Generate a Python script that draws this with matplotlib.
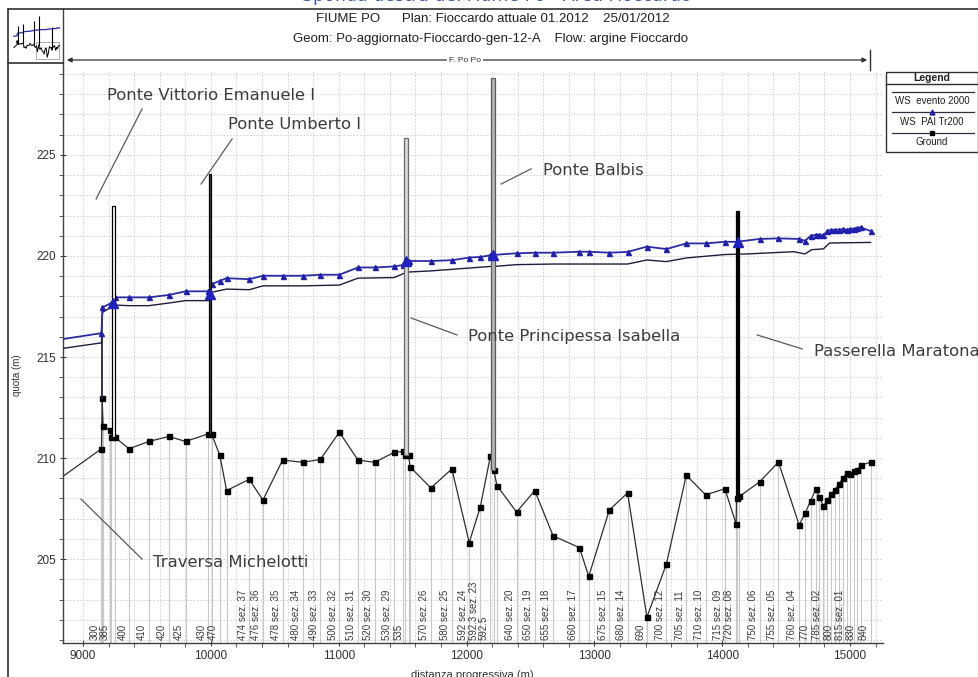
import matplotlib
matplotlib.use('Agg')
import matplotlib.pyplot as plt
from matplotlib.lines import Line2D
from matplotlib.patches import Rectangle, FancyArrowPatch
from matplotlib.ticker import MultipleLocator

# ---------------- data ----------------
ground_x = [8700, 9144, 9149, 9157, 9209, 9222, 9248, 9360, 9514, 9671, 9802, 9979, 10005,
            10070, 10123, 10300, 10407, 10561, 10718, 10856, 11005, 11151, 11282, 11433,
            11501, 11520, 11546, 11559, 11721, 11885, 12021, 12107, 12187, 12212, 12238,
            12391, 12534, 12677, 12883, 12956, 13117, 13260, 13411, 13563, 13719, 13870,
            14021, 14109, 14112, 14135, 14292, 14440, 14602, 14648, 14693, 14734, 14760,
            14792, 14823, 14852, 14883, 14914, 14943, 14974, 15000, 15031, 15057, 15083, 15161]
ground_z = [208.45, 210.46, 212.95, 211.6, 211.39, 211.03, 211.03, 210.46, 210.82, 211.07,
            210.82, 211.2, 211.2, 210.13, 208.39, 208.95, 207.92, 209.9, 209.79, 209.93,
            211.28, 209.9, 209.79, 210.28, 210.33, 210.15, 210.15, 209.56, 208.52, 209.46,
            205.82, 207.57, 210.11, 209.43, 208.64, 207.33, 208.39, 206.15, 205.57, 204.15,
            207.43, 208.28, 202.13, 204.75, 209.15, 208.18, 208.48, 206.74, 208.0, 208.1,
            208.82, 209.8, 206.69, 207.26, 207.9, 208.48, 208.07, 207.62, 207.92, 208.2,
            208.44, 208.72, 209.0, 209.26, 209.21, 209.34, 209.43, 209.64, 209.8]

wsu_x = [8700, 9144, 9152, 9222, 9248, 9360, 9514, 9671, 9802, 9979, 9992, 10005, 10070,
         10123, 10300, 10407, 10561, 10718, 10856, 11005, 11151, 11282, 11433, 11501, 11527,
         11546, 11721, 11885, 12021, 12107, 12187, 12206, 12391, 12534, 12677, 12883, 12956,
         13117, 13260, 13411, 13563, 13719, 13870, 14021, 14115, 14292, 14440, 14602, 14648,
         14693, 14734, 14760, 14792, 14823, 14852, 14883, 14914, 14943, 14974, 15000, 15031,
         15057, 15083, 15161]
wsu_z = [215.75, 216.18, 217.46, 217.67, 217.95, 217.95, 217.95, 218.07, 218.25, 218.25,
         218.1, 218.6, 218.77, 218.9, 218.85, 219.02, 219.02, 219.02, 219.07, 219.07, 219.43,
         219.43, 219.48, 219.55, 219.75, 219.75, 219.75, 219.79, 219.92, 219.95, 220.03,
         220.05, 220.13, 220.16, 220.16, 220.21, 220.21, 220.16, 220.2, 220.46, 220.34,
         220.62, 220.62, 220.7, 220.7, 220.84, 220.87, 220.84, 220.75, 221.0, 221.05, 221.05,
         221.02, 221.25, 221.28, 221.3, 221.3, 221.32, 221.3, 221.33, 221.35, 221.38, 221.42,
         221.23]

wsl_x = [8700, 9144, 9152, 9248, 9360, 9514, 9671, 9802, 9979, 10005, 10123, 10300, 10407,
         10561, 10718, 11005, 11151, 11433, 11527, 11559, 11721, 12187, 12212, 12391, 12677,
         13260, 13411, 13563, 13719, 14021, 14200, 14560, 14648, 14700, 14792, 14840, 15161]
wsl_z = [215.3, 215.7, 217.21, 217.57, 217.54, 217.54, 217.67, 217.79, 217.79, 218.2, 218.36,
         218.33, 218.52, 218.52, 218.52, 218.56, 218.9, 218.93, 219.18, 219.21, 219.26, 219.48,
         219.48, 219.57, 219.6, 219.6, 219.8, 219.72, 219.9, 220.07, 220.1, 220.21, 220.1,
         220.31, 220.35, 220.64, 220.67]

bridge_names = ["Ponte Vittorio Emanuele I", "Ponte Umberto I", "Ponte Principessa Isabella",
                "Ponte Balbis", "Passerella Maratona"]
bridge_x = [9238, 9992, 11527, 12206, 14120]
bridge_top = [222.45, 224.05, 225.85, 228.8, 222.2]
bridge_bottom = [211.03, 211.2, 210.15, 209.43, 208.0]
bridge_ws = [217.67, 218.1, 219.75, 220.05, 220.7]

weir_name = "Traversa Michelotti"
weir_x = [9150]
weir_bottom = [212.95]
weir_top = [216.2]

label_x = [9144, 9222, 9360, 9514, 9671, 9802, 9979, 10070, 10300, 10407, 10561, 10718,
           10856, 11005, 11151, 11282, 11433, 11520, 11721, 11885, 12021, 12107, 12187,
           12391, 12534, 12677, 12883, 13117, 13260, 13411, 13563, 13719, 13870, 14021,
           14109, 14292, 14440, 14602, 14693, 14792, 14883, 14974, 15057, 15161]
label_text = ["300", "385", "400", "410", "420", "425", "430", "470", "474 sez. 37",
              "476 sez. 36", "478 sez. 35", "480 sez. 34", "490 sez. 33", "500 sez. 32",
              "510 sez. 31", "520 sez. 30", "530 sez. 29", "535", "570 sez. 26", "580 sez. 25",
              "592 sez. 24", "592.3 sez. 23", "592.5", "640 sez. 20", "650 sez. 19",
              "655 sez. 18", "660 sez. 17", "675 sez. 15", "680 sez. 14", "690", "700 sez. 12",
              "705 sez. 11", "710 sez. 10", "715 sez. 09", "720 sez. 08", "750 sez. 06",
              "755 sez. 05", "760 sez. 04", "770", "785 sez. 02", "800", "815 sez. 01", "830",
              "840"]

x_ticks = [9000, 10000, 11000, 12000, 13000, 14000, 15000]
y_ticks = [205, 210, 215, 220, 225]

legend_labels = ["WS  evento 2000", "WS  PAI Tr200", "Ground"]

# ---------------- figure ----------------
W, H = 979, 677
fig = plt.figure(figsize=(W / 100, H / 100), dpi=100)
fig.patch.set_facecolor('white')


def fx(px):
    return px / W


def fy(py):
    return 1 - py / H


TICKFONT = ['Liberation Sans Narrow', 'Liberation Sans', 'DejaVu Sans']

ax = fig.add_axes([fx(63), fy(643), fx(883) - fx(63), fy(70) - fy(643)])
ax.set_xlim(8843, 15258)
ax.set_ylim(200.85, 229.2)

ax.xaxis.set_minor_locator(MultipleLocator(200))
ax.yaxis.set_minor_locator(MultipleLocator(1))
ax.set_xticks(x_ticks)
ax.set_yticks(y_ticks)
ax.grid(which='both', color='#cccccc', linestyle=(0, (2, 2)), linewidth=0.6, zorder=0)
ax.set_axisbelow(True)
for s in ['top', 'right']:
    ax.spines[s].set_visible(False)
for s in ['left', 'bottom']:
    ax.spines[s].set_color('#404040')
    ax.spines[s].set_linewidth(1.0)
ax.tick_params(axis='both', which='major', length=4, direction='inout', colors='#404040',
               labelsize=8.5, labelcolor='#303030', pad=3)
ax.tick_params(axis='both', which='minor', length=3, direction='out', colors='#404040')
for lab in ax.get_xticklabels() + ax.get_yticklabels():
    lab.set_family(TICKFONT)

ybot = ax.get_ylim()[0]
# station lines
ax.vlines(ground_x[1:], ybot, ground_z[1:], color='#c8c8c8', lw=0.8, zorder=1)

# station labels
for xv, t in zip(label_x, label_text):
    ax.annotate(t, xy=(xv, 0.005), xycoords=('data', 'axes fraction'),
                xytext=(-1.2, 0), textcoords='offset points',
                rotation=90, ha='right', va='bottom', fontsize=7.0, color='#3a3a3a',
                family=TICKFONT)

# water surfaces
ax.plot(wsl_x, wsl_z, color='#1e1e3c', lw=1.0, zorder=3)
ax.plot(wsu_x, wsu_z, color='#2b2ba5', lw=1.3, marker='^', ms=3.6, mfc='#2020b0',
        mec='#2020b0', markevery=list(range(1, len(wsu_x))), zorder=4)

# ground
ax.plot(ground_x, ground_z, color='#2e2e2e', lw=0.9, marker='s', ms=3.6, mfc='black',
        mec='black', markevery=list(range(1, len(ground_x))), zorder=3)

# weir
ax.vlines(weir_x, weir_bottom, weir_top, color='#22224a', lw=1.3, zorder=3)

# bridges
b_width = [24, 18, 30, 30, 22]
b_face = ['white', '#505050', '#d8d8d8', '#b4b4b4', 'black']
b_edge = ['black', 'black', '#6a6a6a', '#5a5a5a', 'black']
for i in range(len(bridge_x)):
    ax.bar(bridge_x[i], bridge_top[i] - bridge_bottom[i], bottom=bridge_bottom[i],
           width=b_width[i], color=b_face[i], edgecolor=b_edge[i], linewidth=0.9, zorder=5)
ax.plot(bridge_x, bridge_ws, linestyle='none', marker='^', ms=7, mfc='#2020c0',
        mec='#2020c0', zorder=6)

# annotations (text anchor and leader line in data coordinates)
ann_names = ["Ponte Vittorio Emanuele I", "Ponte Umberto I", "Ponte Principessa Isabella",
             "Ponte Balbis", "Passerella Maratona", weir_name]
ann_text_xy = [(9188, 227.92), (10135, 226.49), (12013, 215.99), (12599, 224.21),
               (14720, 215.25), (9548, 204.85)]
ann_line = [((9462, 227.28), (9102, 222.82)), ((10166, 225.79), (9923, 223.56)),
            ((11566, 216.93), (11926, 216.09)), ((12505, 224.31), (12271, 223.56)),
            ((14274, 216.09), (14626, 215.40)), ((8984, 207.97), (9462, 205.0))]
for name, (tx, ty), (p0, p1) in zip(ann_names, ann_text_xy, ann_line):
    ax.text(tx, ty, name, fontsize=11.8, color='#3c3c3c', ha='left', va='center',
            family='DejaVu Sans', clip_on=False, zorder=7)
    ax.plot([p0[0], p1[0]], [p0[1], p1[1]], color='#5a5a5a', lw=0.9, zorder=7,
            clip_on=False)

# axis labels
fig.text(fx(17), fy(375), 'quota (m)', rotation=90, fontsize=7, ha='center', va='center',
         color='#303030', family=TICKFONT)
fig.text(fx(472), fy(670), 'distanza progressiva (m)', fontsize=8, ha='center', va='top',
         color='#303030', family=TICKFONT)

# titles
fig.text(fx(497), fy(5), 'Sponda destra del Fiume Po - Area Fioccardo', fontsize=12.5,
         ha='center', va='bottom', color='#3d56a8', family='DejaVu Sans')
fig.text(fx(493), fy(19), 'FIUME PO      Plan: Fioccardo attuale 01.2012    25/01/2012',
         fontsize=9.5, ha='center', va='center', color='#202020', family=TICKFONT)
fig.text(fx(491), fy(39), 'Geom: Po-aggiornato-Fioccardo-gen-12-A    Flow: argine Fioccardo',
         fontsize=9.5, ha='center', va='center', color='#202020', family=TICKFONT)

# reach arrow "F. Po Po"
fig.add_artist(FancyArrowPatch((fx(64), fy(60)), (fx(870), fy(60)), transform=fig.transFigure,
                               arrowstyle='<|-|>', mutation_scale=7, color='#303030', lw=0.9))
fig.add_artist(Line2D([fx(870), fx(870)], [fy(50), fy(70)], color='#303030', lw=1.0))
fig.text(fx(465), fy(60), 'F. Po Po', fontsize=6, ha='center', va='center', color='#303030',
         family=TICKFONT, bbox=dict(facecolor='white', edgecolor='none', pad=1.5))
fig.add_artist(Line2D([fx(63), fx(63)], [fy(9), fy(70)], color='#404040', lw=1.0))

# outer frame and mini-map box
fig.add_artist(Line2D([fx(8), fx(979)], [fy(9), fy(9)], color='#303030', lw=1.2))
fig.add_artist(Line2D([fx(8), fx(8)], [fy(9), fy(677)], color='#303030', lw=1.2))
fig.add_artist(Line2D([fx(8), fx(63)], [fy(63), fy(63)], color='#303030', lw=1.2))

mini = fig.add_axes([fx(9), fy(62), fx(62) - fx(9), fy(10) - fy(62)])
mini.set_xlim(8000, 15500)
mini.set_ylim(199, 233)
mini.axis('off')
mini.plot(ground_x, ground_z, color='black', lw=0.7)
mini.plot(wsu_x, wsu_z, color='#2b2ba5', lw=0.9)
mini.vlines(bridge_x, bridge_bottom, bridge_top, color='black', lw=0.8)
mini.add_patch(Rectangle((11800, 201), 3300, 11, fill=False, edgecolor='#a0a0a0', lw=0.6))

# legend box
lx0, lx1 = 886, 978
fig.add_artist(Rectangle((fx(lx0), fy(152)), fx(lx1) - fx(lx0), fy(72) - fy(152),
                         transform=fig.transFigure, facecolor='white', edgecolor='#303030',
                         lw=1.0))
fig.add_artist(Line2D([fx(lx0), fx(lx1)], [fy(84), fy(84)], color='#303030', lw=1.0))
fig.text(fx(932), fy(78), 'Legend', fontsize=7.5, fontweight='bold', ha='center',
         va='center', color='#202020', family=TICKFONT)
leg_line_y = [92, 112, 133]
leg_text_y = [101, 122, 142]
leg_marker = [None, '^', 's']
leg_mcol = [None, '#2020b0', 'black']
for ly, ty, lab, mk, mc in zip(leg_line_y, leg_text_y, legend_labels, leg_marker, leg_mcol):
    fig.add_artist(Line2D([fx(892), fx(974)], [fy(ly), fy(ly)], color='#303040', lw=0.9))
    if mk:
        fig.add_artist(Line2D([fx(932)], [fy(ly)], marker=mk, ms=3.5, color=mc,
                              linestyle='none'))
    fig.text(fx(932), fy(ty), lab, fontsize=7, ha='center', va='center', color='#202020',
             family=TICKFONT)

fig.savefig('out.png', dpi=100, facecolor='white')
